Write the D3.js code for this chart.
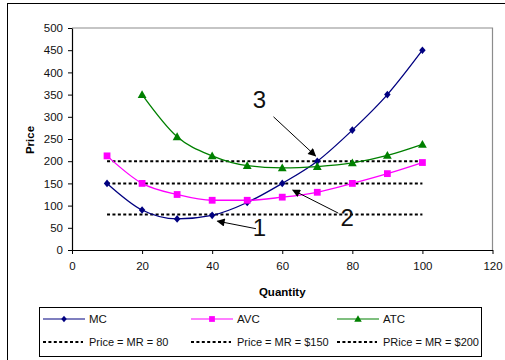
<!DOCTYPE html>
<html>
<head>
<meta charset="utf-8">
<script src="https://cdn.jsdelivr.net/npm/d3@7"></script>
<style>
  html, body { margin: 0; padding: 0; background: #fff; }
  svg { display: block; font-family: "Liberation Sans", Arial, sans-serif; }
</style>
</head>
<body>
<svg id="chart" width="505" height="360"></svg>
<script>
// Cost curves by quantity
const quantities = [10, 20, 30, 40, 50, 60, 70, 80, 90, 100];
const mcValues  = [150, 90, 70, 78, 107, 150, 200, 270, 350, 450];
const avcValues = [212, 150, 125, 112, 112, 119, 130, 150, 172, 197];
const atcQuantities = [20, 30, 40, 50, 60, 70, 80, 90, 100];
const atcValues = [350, 255, 212, 190, 185, 188, 196, 213, 238];

// Horizontal price lines (Price = MR)
const priceLevels = [80, 150, 200];
const priceLabels = ["Price = MR = 80", "Price = MR = $150", "PRice = MR = $200"];
const priceRange = [10, 100];

// Axis ticks
const xTicks = [0, 20, 40, 60, 80, 100, 120];
const yTicks = [0, 50, 100, 150, 200, 250, 300, 350, 400, 450, 500];

// Numbered callouts: label, text position, arrow tail, arrow tip (quantity/price)
const callouts = [
  { label: "1", text: [53.5, 31], from: [52.5, 48], to: [41.5, 65] },
  { label: "3", text: [53.5, 320], from: [57.5, 300], to: [69.5, 212] },
  { label: "2", text: [78.5, 53], from: [76, 83], to: [63, 135] }
];

const svg = d3.select("#chart");
const x = d3.scaleLinear().domain([0, 120]).range([72, 492.5]);
const y = d3.scaleLinear().domain([0, 500]).range([250, 28]);

// Outer chart frame
svg.append("rect").attr("x", 7.5).attr("y", 3.5).attr("width", 540).attr("height", 400)
  .attr("fill", "#fff").attr("stroke", "#000").attr("stroke-width", 1);

// Plot area border (top/right grey)
svg.append("path")
  .attr("d", `M${x(0)},${y(500)}H${x(120)}V${y(0)}`)
  .attr("fill", "none").attr("stroke", "#8c8c8c").attr("stroke-width", 1.2);

// Axes
const xAxis = svg.append("g").attr("transform", `translate(0,${y(0)})`)
  .call(d3.axisBottom(x).tickValues(xTicks).tickSize(4).tickPadding(8).tickSizeOuter(0));
const yAxis = svg.append("g").attr("transform", `translate(${x(0)},0)`)
  .call(d3.axisLeft(y).tickValues(yTicks).tickSize(4).tickPadding(5).tickSizeOuter(0));
[xAxis, yAxis].forEach(g => {
  g.select(".domain").attr("stroke", "#000").attr("stroke-width", 1.2);
  g.selectAll(".tick line").attr("stroke", "#000");
  g.selectAll("text").attr("font-size", 11.5).attr("fill", "#111")
    .attr("font-family", "'Liberation Sans', Arial, sans-serif");
});

// Axis titles
svg.append("text").attr("x", x(60)).attr("y", 296).attr("text-anchor", "middle")
  .attr("font-size", 11.5).attr("font-weight", "bold").text("Quantity");
svg.append("text").attr("transform", `translate(34,140) rotate(-90)`)
  .attr("text-anchor", "middle").attr("font-size", 11.5).attr("font-weight", "bold").text("Price");

// Price = MR dotted lines
const dotted = { stroke: "#000", width: 2, dash: "3,2.4" };
priceLevels.forEach(p => {
  svg.append("line")
    .attr("x1", x(priceRange[0])).attr("x2", x(priceRange[1]))
    .attr("y1", y(p)).attr("y2", y(p))
    .attr("stroke", dotted.stroke).attr("stroke-width", dotted.width)
    .attr("stroke-dasharray", dotted.dash);
});

// Marker shapes
const markers = {
  diamond: s => `M0,${-s}L${s * 0.85},0L0,${s}L${-s * 0.85},0Z`,
  square: s => `M${-s},${-s}H${s}V${s}H${-s}Z`,
  triangle: s => `M0,${-s * 1.05}L${s * 1.05},${s * 0.8}L${-s * 1.05},${s * 0.8}Z`
};

const series = [
  { name: "MC", qs: quantities, vals: mcValues, color: "#000080", marker: "diamond", size: 3.8 },
  { name: "AVC", qs: quantities, vals: avcValues, color: "#ff00ff", marker: "square", size: 3.4 },
  { name: "ATC", qs: atcQuantities, vals: atcValues, color: "#008000", marker: "triangle", size: 4.2 }
];

const line = d3.line().x(d => x(d[0])).y(d => y(d[1])).curve(d3.curveMonotoneX);

series.forEach(s => {
  const pts = s.qs.map((q, i) => [q, s.vals[i]]);
  svg.append("path").datum(pts).attr("d", line)
    .attr("fill", "none").attr("stroke", s.color).attr("stroke-width", 1.3);
  svg.append("g").selectAll("path").data(pts).join("path")
    .attr("transform", d => `translate(${x(d[0])},${y(d[1])})`)
    .attr("d", markers[s.marker](s.size)).attr("fill", s.color);
});

// Arrowhead
svg.append("defs").append("marker")
  .attr("id", "arrowhead").attr("viewBox", "0 0 10 10").attr("refX", 9).attr("refY", 5)
  .attr("markerWidth", 11).attr("markerHeight", 8).attr("markerUnits", "userSpaceOnUse")
  .attr("orient", "auto")
  .append("path").attr("d", "M0,0L10,5L0,10Z").attr("fill", "#000");

callouts.forEach(c => {
  svg.append("line")
    .attr("x1", x(c.from[0])).attr("y1", y(c.from[1]))
    .attr("x2", x(c.to[0])).attr("y2", y(c.to[1]))
    .attr("stroke", "#000").attr("stroke-width", 1).attr("marker-end", "url(#arrowhead)");
  svg.append("text").attr("x", x(c.text[0])).attr("y", y(c.text[1]))
    .attr("text-anchor", "middle").attr("font-size", 24).attr("fill", "#111").text(c.label);
});

// Legend
const legend = svg.append("g");
legend.append("rect").attr("x", 39.5).attr("y", 307.5).attr("width", 442).attr("height", 49)
  .attr("fill", "#fff").attr("stroke", "#000").attr("stroke-width", 1);
const colX = [43, 191, 337];
const rowY = [319, 342];
series.forEach((s, i) => {
  const g = legend.append("g").attr("transform", `translate(${colX[i]},${rowY[0]})`);
  g.append("line").attr("x1", 0).attr("x2", 42).attr("stroke", s.color).attr("stroke-width", 1.2);
  g.append("path").attr("transform", "translate(21,0)").attr("d", markers[s.marker](s.size * 0.85))
    .attr("fill", s.color);
  g.append("text").attr("x", 46).attr("y", 4).attr("font-size", 11.5).attr("fill", "#111").text(s.name);
});
priceLabels.forEach((lab, i) => {
  const g = legend.append("g").attr("transform", `translate(${colX[i]},${rowY[1]})`);
  g.append("line").attr("x1", 0).attr("x2", 40).attr("stroke", dotted.stroke)
    .attr("stroke-width", dotted.width).attr("stroke-dasharray", dotted.dash);
  g.append("text").attr("x", 46).attr("y", 4).attr("font-size", 11).attr("fill", "#111").text(lab);
});
</script>
</body>
</html>
